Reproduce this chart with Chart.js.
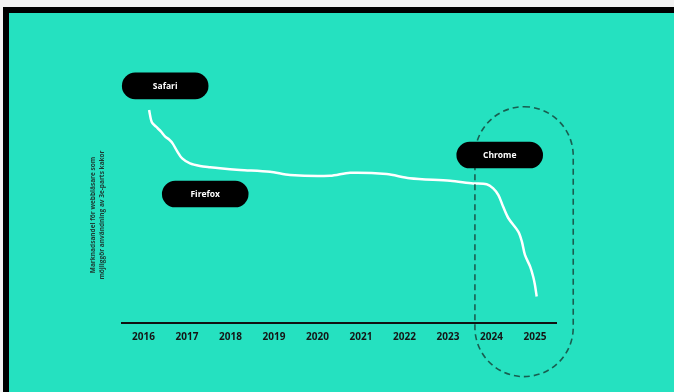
<!DOCTYPE html>
<html>
<head>
<meta charset="utf-8">
<script src="https://cdn.jsdelivr.net/npm/chart.js@4.4.1/dist/chart.umd.min.js"></script>
<style>
  html, body { margin: 0; padding: 0; background: #f2f2f2; width: 674px; height: 392px; overflow: hidden; }
  #frame { position: absolute; left: 3px; top: 7px; right: 0; bottom: 0; background: #000; }
  #panel { position: absolute; left: 9px; top: 13px; right: 0; bottom: 0; background: #25e1c0; }
  canvas { position: absolute; left: 0; top: 0; }
</style>
</head>
<body>
<div id="frame"></div>
<div id="panel"></div>
<canvas id="c" width="674" height="392"></canvas>
<script>
// ---- data ----
const tickYears = [2016, 2017, 2018, 2019, 2020, 2021, 2022, 2023, 2024, 2025];
const shareYears = [2016.13, 2016.19, 2016.29, 2016.40, 2016.50, 2016.59, 2016.67, 2016.77, 2016.89, 2017.07,
  2017.30, 2017.53, 2017.76, 2018.22, 2018.91, 2019.37, 2020.29, 2020.75, 2021.59, 2022.12,
  2023.05, 2023.58, 2023.89, 2024.04, 2024.16, 2024.27, 2024.39, 2024.62, 2024.70, 2024.77,
  2024.89, 2024.96, 2025.00, 2025.04];
const shareValues = [82.0, 77.4, 75.6, 73.8, 71.8, 70.7, 69.2, 66.3, 63.4, 61.5,
  60.5, 60.0, 59.6, 59.0, 58.3, 57.0, 56.7, 57.9, 57.4, 55.8,
  54.8, 53.8, 53.5, 51.9, 49.3, 44.8, 40.4, 35.2, 31.4, 26.3,
  21.8, 17.9, 14.7, 10.3];
const browserLabels = ['Safari', 'Firefox', 'Chrome'];
const browserLabelX = [2016.50, 2017.42, 2024.19];
const browserLabelY = [91.3, 49.7, 64.7];
const highlightYears = [2023.62, 2025.88];
const highlightValues = [83.3, -20.5];
const yTitle = ['Marknadsandel för webbläsare som', 'möjliggör användning av 3e-parts kakor'];

const FONT = '"Open Sans", "DejaVu Sans", sans-serif';

const overlay = {
  id: 'overlay',
  afterDraw(chart) {
    const ctx = chart.ctx;
    const xs = chart.scales.x, ys = chart.scales.y;
    // dashed highlight (stadium)
    const x0 = xs.getPixelForValue(highlightYears[0]);
    const x1 = xs.getPixelForValue(highlightYears[1]);
    const y0 = ys.getPixelForValue(highlightValues[0]);
    const y1 = ys.getPixelForValue(highlightValues[1]);
    const r = (x1 - x0) / 2;
    ctx.save();
    ctx.strokeStyle = 'rgba(22,70,60,0.85)';
    ctx.lineWidth = 1.6;
    ctx.setLineDash([6, 4]);
    ctx.beginPath();
    ctx.roundRect(x0, y0, x1 - x0, y1 - y0, r);
    ctx.stroke();
    ctx.restore();
    // pills
    const w = 86.6, h = 26.6;
    browserLabels.forEach((t, i) => {
      const cx = xs.getPixelForValue(browserLabelX[i]);
      const cy = ys.getPixelForValue(browserLabelY[i]);
      ctx.save();
      ctx.fillStyle = '#000';
      ctx.beginPath();
      ctx.roundRect(cx - w / 2, cy - h / 2, w, h, h / 2);
      ctx.fill();
      ctx.fillStyle = '#fff';
      ctx.font = 'bold 8.5px ' + FONT;
      ctx.textAlign = 'center';
      ctx.textBaseline = 'middle';
      ctx.fillText(t, cx, cy + 0.5);
      ctx.restore();
    });
  }
};

new Chart(document.getElementById('c'), {
  type: 'line',
  data: {
    datasets: [{
      data: shareYears.map((x, i) => ({ x, y: shareValues[i] })),
      borderColor: '#ffffff',
      borderWidth: 2.5,
      pointRadius: 0,
      tension: 0.3,
      fill: false
    }]
  },
  options: {
    responsive: false,
    animation: false,
    events: [],
    layout: { padding: { left: 85, right: 117.3, top: 106.7, bottom: 0 } },
    plugins: { legend: { display: false }, tooltip: { enabled: false } },
    scales: {
      x: {
        type: 'linear',
        min: 2015.5,
        max: 2025.5,
        afterBuildTicks(s) { s.ticks = tickYears.map(v => ({ value: v })); },
        afterFit(s) { s.height = 68.7; },
        grid: { display: false, drawTicks: false },
        border: { display: true, color: '#111', width: 2 },
        ticks: {
          padding: 8,
          color: '#151515',
          font: { family: FONT, size: 10, weight: 'bold' },
          maxRotation: 0,
          autoSkip: false,
          callback: v => String(v)
        }
      },
      y: {
        min: 0,
        max: 83.3,
        afterFit(s) { s.width = 36.7; },
        grid: { display: false, drawTicks: false },
        border: { display: false },
        ticks: { display: false },
        title: {
          display: true,
          text: yTitle,
          color: '#1d3a33',
          padding: { top: 3.5, bottom: 0 },
          font: { family: FONT, size: 6.5, weight: 'bold', lineHeight: 1.45 }
        }
      }
    }
  },
  plugins: [overlay]
});
</script>
</body>
</html>
